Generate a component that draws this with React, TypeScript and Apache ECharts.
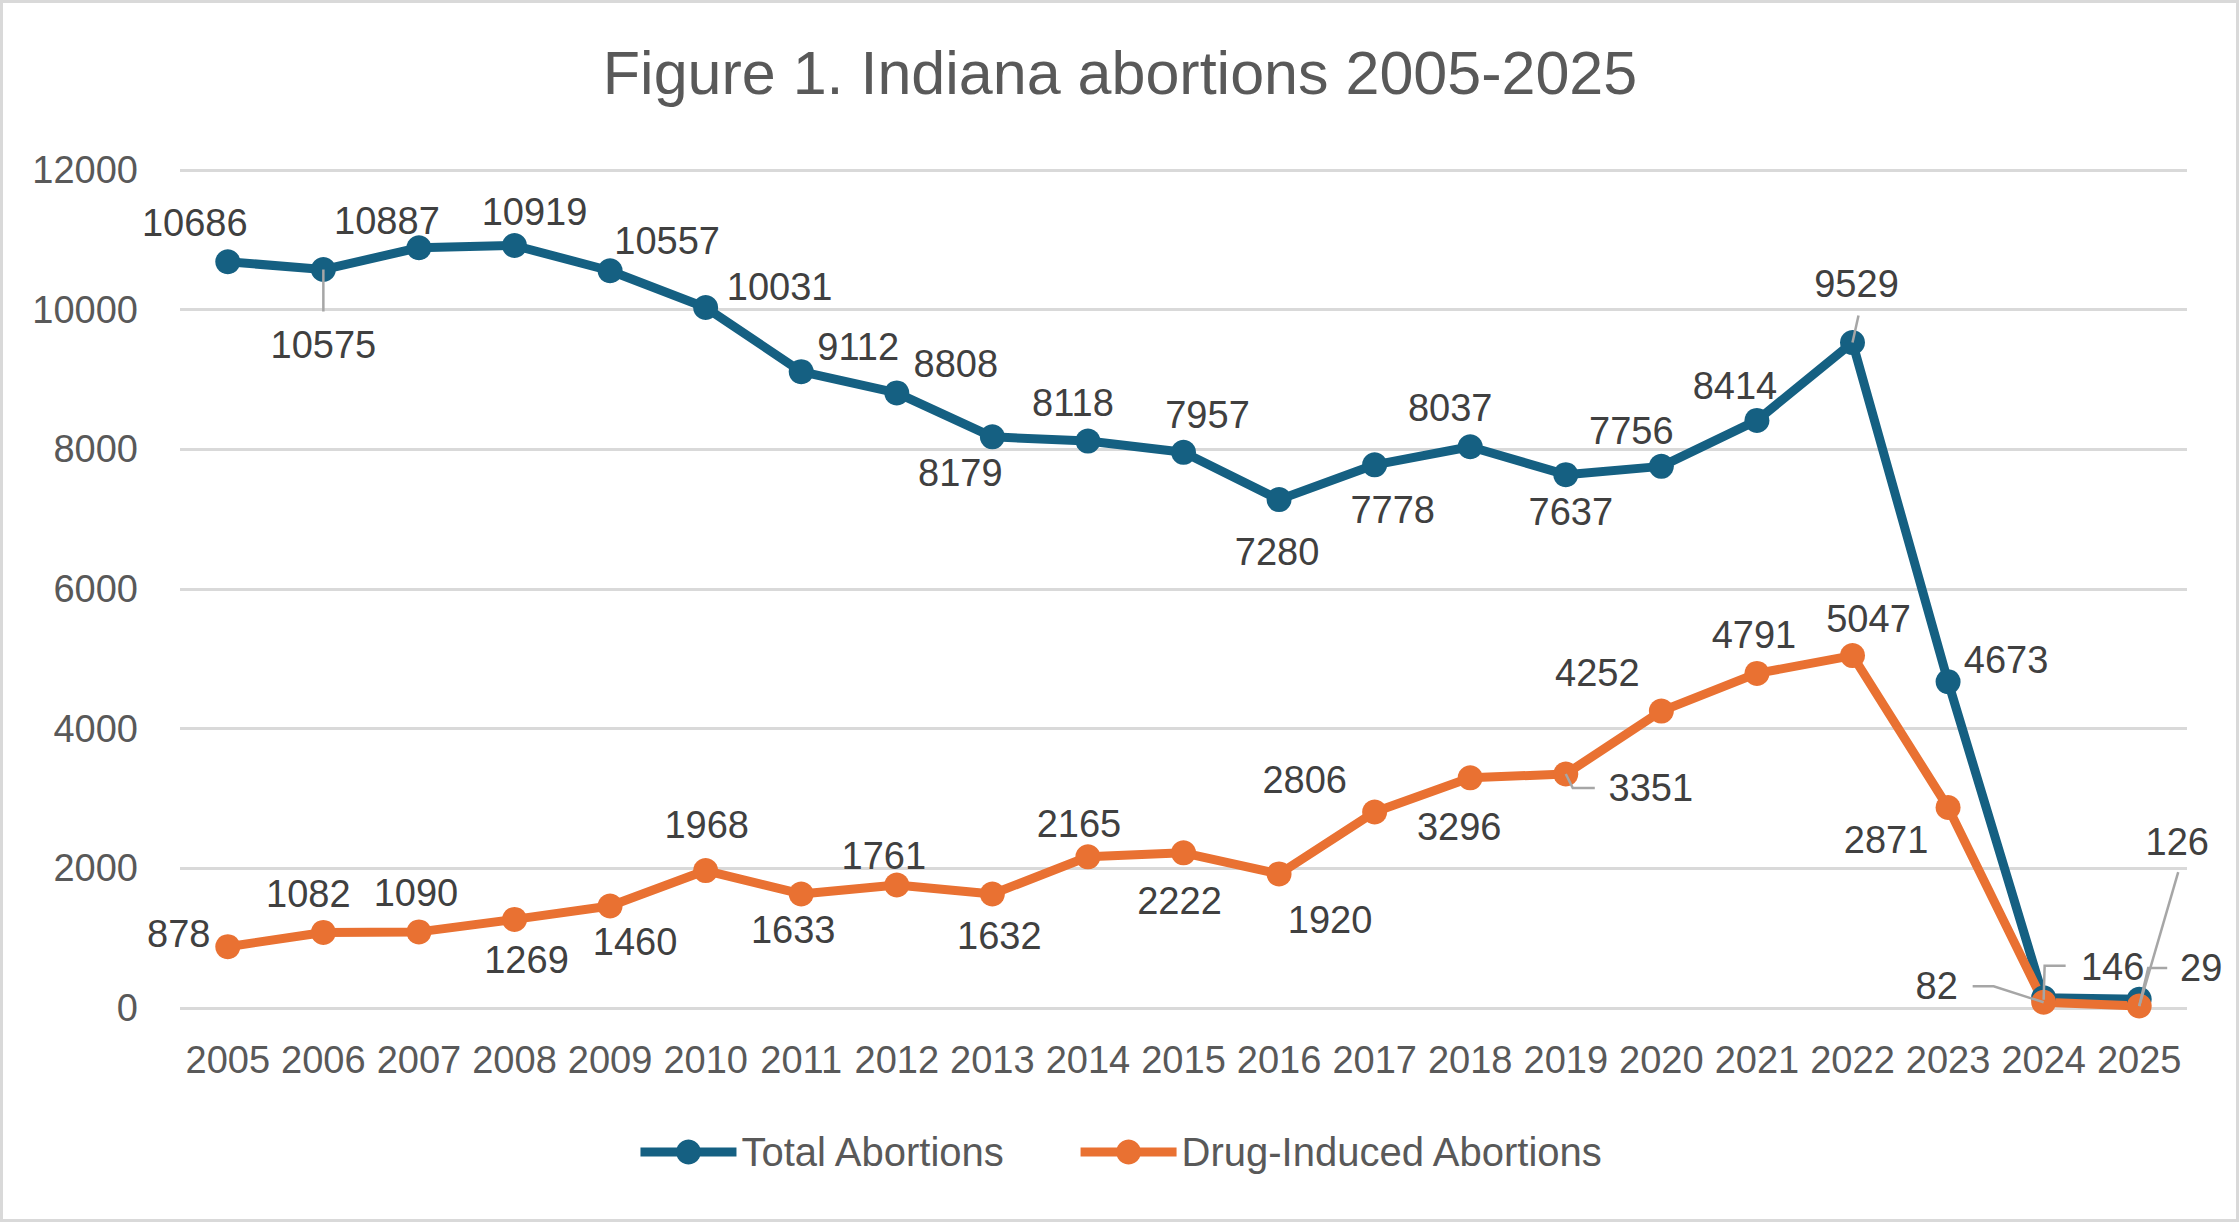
import React, { useEffect, useRef } from "react";
import * as echarts from "echarts";

// Indiana abortion counts by year
const years = [
  "2005", "2006", "2007", "2008", "2009", "2010", "2011", "2012", "2013", "2014", "2015",
  "2016", "2017", "2018", "2019", "2020", "2021", "2022", "2023", "2024", "2025",
];
const totalAbortions = [
  10686, 10575, 10887, 10919, 10557, 10031, 9112, 8808, 8179, 8118, 7957,
  7280, 7778, 8037, 7637, 7756, 8414, 9529, 4673, 146, 126,
];
const drugInducedAbortions = [
  878, 1082, 1090, 1269, 1460, 1968, 1633, 1761, 1632, 2165, 2222,
  1920, 2806, 3296, 3351, 4252, 4791, 5047, 2871, 82, 29,
];
const seriesNames = ["Total Abortions", "Drug-Induced Abortions"];
const yMin = 0;
const yMax = 12000;
const yStep = 2000;

// Label placement (pixel offsets of each value label from its marker)
const totalLabelOffsets: [number, number][] = [
  [-33, -39], [0, 75], [-32, -27], [20, -33], [57, -30], [74, -21], [57, -25],
  [59, -29], [-32, 36], [-15, -38], [24, -37], [-2, 52], [18, 45], [-20, -39],
  [5, 37], [-30, -35], [-22, -34], [4, -59], [58, -22], [69, -31], [38, -157],
];
const drugLabelOffsets: [number, number][] = [
  [-49, -13], [-15, -38], [-3, -39], [12, 41], [25, 36], [1, -46], [-8, 36],
  [-13, -29], [7, 42], [-9, -33], [-4, 48], [51, 46], [-70, -32], [-11, 49],
  [85, 14], [-64, -38], [-3, -38], [16, -37], [-62, 32], [-107, -16], [62, -38],
];

// Leader lines joining displaced labels to their markers
// (polyline vertices in pixels, relative to the marker centre)
type Leader = { series: 0 | 1; index: number; path: [number, number][] };
const leaders: Leader[] = [
  { series: 0, index: 1, path: [[0, 0], [0, 42]] },
  { series: 0, index: 17, path: [[0, 0], [6, -27]] },
  { series: 0, index: 19, path: [[0, 2], [1, -32], [22, -32]] },
  { series: 0, index: 20, path: [[0, 7], [39, -127]] },
  { series: 1, index: 14, path: [[0, 0], [7, 14], [29, 14]] },
  { series: 1, index: 19, path: [[-71, -16], [-50, -16], [0, 0]] },
  { series: 1, index: 20, path: [[0, 0], [9, -38], [28, -38]] },
];

const BLUE = "#156082";
const ORANGE = "#E97132";
const FONT = "Liberation Sans";

function buildData(values: number[], offsets: [number, number][]) {
  return values.map((v, i) => ({ value: v, label: { offset: offsets[i] } }));
}

export default function App() {
  const ref = useRef<HTMLDivElement>(null);

  useEffect(() => {
    if (!ref.current) return;
    const chart = echarts.init(ref.current, undefined, { renderer: "svg" });

    const seriesValues = [totalAbortions, drugInducedAbortions];

    const commonSeries = {
      type: "line" as const,
      symbol: "circle",
      symbolSize: 25,
      emphasis: { disabled: true },
      label: {
        show: true,
        position: "inside",
        color: "#404040",
        fontSize: 38,
        fontFamily: FONT,
      },
    };

    chart.setOption({
      animation: false,
      backgroundColor: "#ffffff",
      textStyle: { fontFamily: FONT },
      title: {
        text: "Figure 1. Indiana abortions 2005-2025",
        left: "center",
        top: 37,
        textStyle: {
          fontFamily: FONT,
          fontSize: 61,
          fontWeight: "normal",
          color: "#595959",
        },
      },
      graphic: [
        {
          type: "rect",
          shape: { x: 1.5, y: 1.5, width: 2236, height: 1219 },
          style: { fill: "none", stroke: "#D9D9D9", lineWidth: 3 },
          silent: true,
        },
      ],
      legend: {
        data: seriesNames,
        left: "center",
        top: 1127,
        itemWidth: 96,
        itemHeight: 31,
        itemGap: 70,
        lineStyle: { width: 9 },
        textStyle: { fontFamily: FONT, fontSize: 40, color: "#595959" },
      },
      grid: { left: 180, right: 53, top: 170, bottom: 214, containLabel: false },
      xAxis: {
        type: "category",
        data: years,
        boundaryGap: true,
        axisLine: { show: false },
        axisTick: { show: false },
        axisLabel: {
          fontFamily: FONT,
          fontSize: 38,
          color: "#595959",
          margin: 33,
          interval: 0,
        },
      },
      yAxis: {
        type: "value",
        min: yMin,
        max: yMax,
        interval: yStep,
        axisLine: { show: false },
        axisTick: { show: false },
        splitLine: { lineStyle: { color: "#D9D9D9", width: 3 } },
        axisLabel: {
          fontFamily: FONT,
          fontSize: 38,
          color: "#595959",
          margin: 42,
          formatter: (v: number) => String(v),
        },
      },
      series: [
        {
          ...commonSeries,
          name: seriesNames[0],
          data: buildData(totalAbortions, totalLabelOffsets),
          itemStyle: { color: BLUE },
          lineStyle: { color: BLUE, width: 9 },
        },
        {
          ...commonSeries,
          name: seriesNames[1],
          data: buildData(drugInducedAbortions, drugLabelOffsets),
          itemStyle: { color: ORANGE },
          lineStyle: { color: ORANGE, width: 9 },
        },
        {
          type: "custom",
          name: "leaders",
          z: 5,
          silent: true,
          data: leaders.map((l) => [l.index, seriesValues[l.series][l.index]]),
          renderItem: (params: any, api: any) => {
            const leader = leaders[params.dataIndex];
            const c = api.coord([api.value(0), api.value(1)]);
            return {
              type: "polyline",
              shape: { points: leader.path.map(([dx, dy]) => [c[0] + dx, c[1] + dy]) },
              style: { stroke: "#A6A6A6", lineWidth: 2.5, fill: "none" },
            };
          },
        },
      ],
    });

    return () => chart.dispose();
  }, []);

  return (
    <div
      ref={ref}
      style={{
        position: "absolute",
        left: 0,
        top: 0,
        width: 2240,
        height: 1222,
        background: "#ffffff",
      }}
    />
  );
}
